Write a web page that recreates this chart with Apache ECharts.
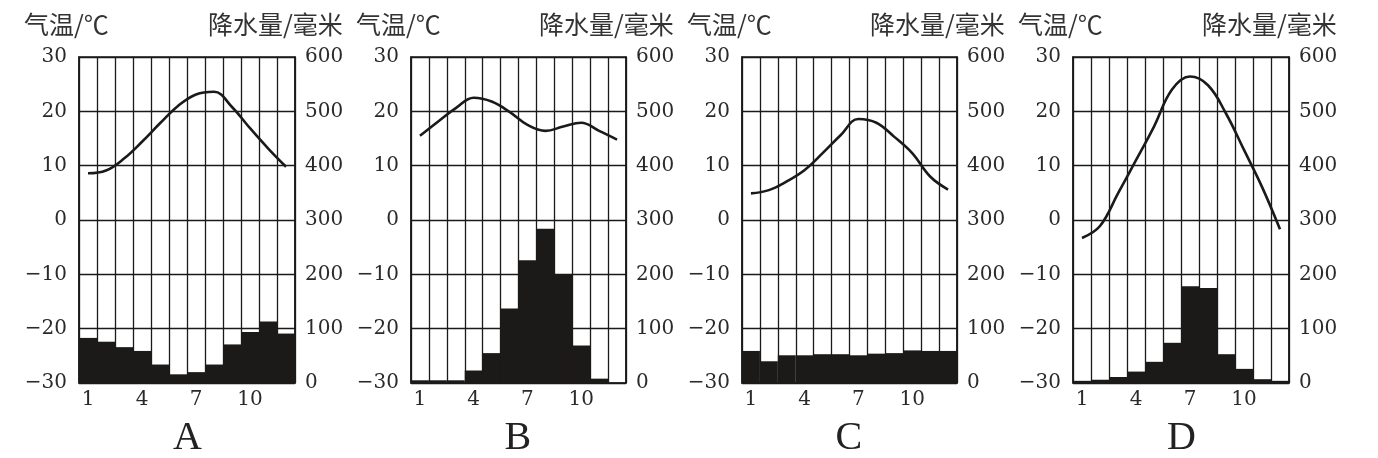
<!DOCTYPE html>
<html>
<head>
<meta charset="utf-8">
<script src="https://cdn.jsdelivr.net/npm/echarts@6/dist/echarts.min.js"></script>
<style>
html,body{margin:0;padding:0;background:#fff;}
#chart{width:1378px;height:458px;}
</style>
</head>
<body>
<div id="chart"></div>
<script>
// ---- data ----
const months = ['1','2','3','4','5','6','7','8','9','10','11','12'];
const panelNames = ['A','B','C','D'];
const tempAxisName = '气温/℃';
const precipAxisName = '降水量/毫米';
const tempTicks = [-30, 30, 10];     // min, max, interval
const precipTicks = [0, 600, 100];   // min, max, interval

const tempA = [8.6, 9.1, 11.3, 14.4, 17.8, 21.0, 23.1, 23.6, 20.8, 16.9, 13.2, 9.8];
const precipA = [83, 76, 66, 59, 34, 16, 20, 34, 71, 94, 113, 91];

const tempB = [15.5, 18.1, 20.6, 22.5, 21.8, 19.9, 17.5, 16.4, 17.2, 17.9, 16.4, 14.8];
const precipB = [5, 5, 5, 23, 55, 137, 226, 284, 200, 69, 8, 1];

const tempC = [4.9, 5.5, 7.1, 9.2, 12.3, 15.6, 18.6, 17.9, 15.3, 12.3, 8.0, 5.6];
const precipC = [59, 40, 51, 51, 53, 53, 51, 54, 55, 60, 59, 59];

const tempD = [-3.3, -1.1, 4.9, 11.0, 17.2, 24.0, 26.4, 24.8, 19.6, 12.9, 6.1, -1.7];
const precipD = [4, 6, 11, 21, 39, 74, 178, 175, 53, 26, 7, 4];

const temps = [tempA, tempB, tempC, tempD];
const precips = [precipA, precipB, precipC, precipD];

// ---- layout ----
const gridLefts = [79, 411, 742, 1073];
const gridWidths = [216, 215, 215, 216];
const gridTop = 57, gridHeight = 326;
const ink = '#1c1a19';
const numFont = '"DejaVu Serif", "Liberation Serif", serif';
const letterFont = '"Liberation Serif", "Times New Roman", serif';
const cjkFont = '"Noto Sans CJK SC", sans-serif';

const chart = echarts.init(document.getElementById('chart'), null, {renderer: 'canvas'});

const grids = [], xAxes = [], yAxes = [], series = [], graphics = [];
const fmtNum = v => String(v).replace('-', '−');

for (let i = 0; i < 4; i++) {
  grids.push({
    left: gridLefts[i], top: gridTop, width: gridWidths[i], height: gridHeight,
    show: true, borderColor: ink, borderWidth: 1.5, backgroundColor: 'transparent'
  });
  xAxes.push({
    type: 'category', gridIndex: i, data: months, boundaryGap: true,
    axisLine: {show: false}, axisTick: {show: false},
    axisLabel: {interval: 2, margin: 7, color: '#2a2a2a', fontFamily: numFont, fontSize: 20},
    splitLine: {show: true, interval: 0, lineStyle: {color: ink, width: 1.3}}
  });
  yAxes.push({
    type: 'value', gridIndex: i, position: 'left',
    min: tempTicks[0], max: tempTicks[1], interval: tempTicks[2],
    axisLine: {show: true, lineStyle: {color: ink, width: 1.5}}, axisTick: {show: false},
    axisLabel: {margin: 12, color: '#2a2a2a', fontFamily: numFont, fontSize: 20, formatter: fmtNum},
    splitLine: {show: true, lineStyle: {color: ink, width: 1.3}}
  });
  yAxes.push({
    type: 'value', gridIndex: i, position: 'right',
    min: precipTicks[0], max: precipTicks[1], interval: precipTicks[2],
    axisLine: {show: true, lineStyle: {color: ink, width: 1.5}}, axisTick: {show: false},
    axisLabel: {margin: 10, color: '#2a2a2a', fontFamily: numFont, fontSize: 20},
    splitLine: {show: false}
  });
  series.push({
    type: 'bar', xAxisIndex: i, yAxisIndex: 2 * i + 1, data: precips[i],
    barCategoryGap: '0%', itemStyle: {color: ink}, z: 2, silent: true
  });
  series.push({
    type: 'line', xAxisIndex: i, yAxisIndex: 2 * i, data: temps[i],
    smooth: 0.4, showSymbol: false, lineStyle: {color: ink, width: 2.6}, z: 3, silent: true
  });
  // axis titles
  graphics.push({
    type: 'text', left: gridLefts[i] - 55, top: 12,
    style: {text: tempAxisName, font: '25px ' + cjkFont, fill: '#333'}
  });
  graphics.push({
    type: 'text', left: gridLefts[i] + gridWidths[i] - 87, top: 12,
    style: {text: precipAxisName, font: '25px ' + cjkFont, fill: '#333'}
  });
  // panel letter
  graphics.push({
    type: 'text', left: gridLefts[i] + gridWidths[i] / 2 - 14, top: 418,
    style: {text: panelNames[i], font: '40px ' + letterFont, fill: '#222'}
  });
}

chart.setOption({
  animation: false,
  backgroundColor: '#fff',
  grid: grids, xAxis: xAxes, yAxis: yAxes, series: series, graphic: graphics
});
</script>
</body>
</html>
